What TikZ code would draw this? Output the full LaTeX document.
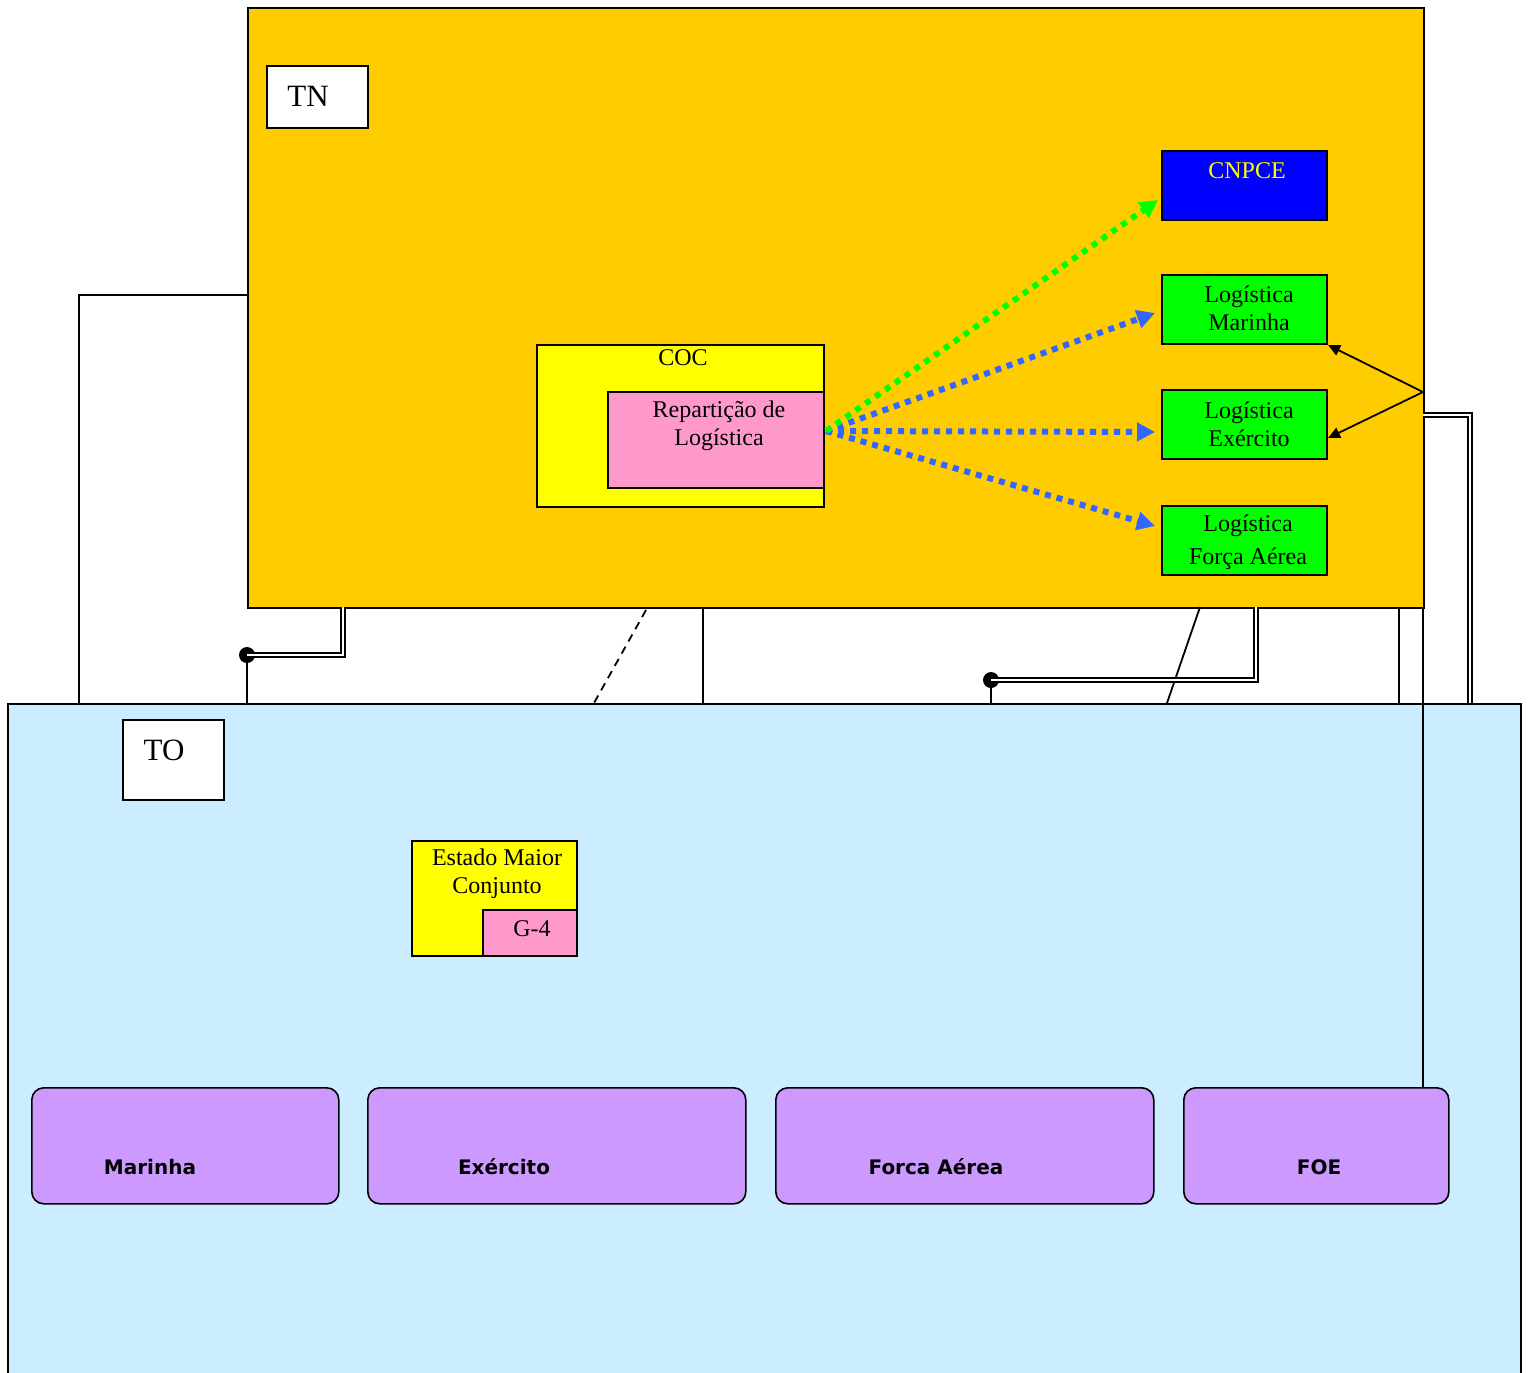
\documentclass[tikz,border=0pt]{standalone}
\usepackage{fontspec}
\setmainfont{Liberation Serif}
\newfontfamily\pfont{DejaVu Sans}
\usetikzlibrary{arrows.meta,calc}
\definecolor{tnfill}{HTML}{FFCC00}
\definecolor{tofill}{HTML}{CCECFF}
\definecolor{ylw}{HTML}{FFFF00}
\definecolor{pnk}{HTML}{FF99CC}
\definecolor{grn}{HTML}{00FF00}
\definecolor{blu}{HTML}{0000FF}
\definecolor{prp}{HTML}{CC99FF}
\definecolor{arrblue}{HTML}{3366FF}
\begin{document}
\begin{tikzpicture}[x=0.5pt,y=-0.5pt,
  box/.style={draw=black, line width=0.8pt, inner sep=0pt, anchor=north west},
  sz/.style 2 args={minimum width=#1*0.5pt, minimum height=#2*0.5pt},
  lbl/.style={inner sep=0pt, align=center, font=\fontsize{12}{14}\selectfont},
  biglbl/.style={inner sep=0pt, font=\fontsize{15.5}{18}\selectfont},
  plbl/.style={inner sep=0pt, font=\pfont\bfseries\fontsize{10}{12}\selectfont},
  pbox/.style={box, fill=prp, rounded corners=6pt, sz={#1}{116}},
  conn/.style={line width=0.9pt},
  dbl/.style={line width=1pt, double=white, double distance=1pt},
  dotarr/.style={line width=3pt, dash pattern=on 3pt off 3pt, -{Triangle[length=9pt,width=9pt]}},
  blkarr/.style={line width=0.9pt, -{Triangle[length=6pt,width=5.5pt]}},
  joint/.style={circle, fill=black, inner sep=0pt, minimum size=8pt}]
\useasboundingbox (0,0) rectangle (1529,1372);
\clip (0,0) rectangle (1529,1372);

% main areas
\node[box, fill=tofill, sz={1513}{690}] (to) at (7,703) {};
\node[box, fill=tnfill, sz={1176}{600}] (tn) at (247,7) {};

% TN contents
\node[box, fill=white, sz={101}{62}] (tnl) at (266,65) {};
\node[biglbl] (tntxt) at (308,96) {TN};
\node[box, fill=blu, sz={165}{69}] (cnpce) at (1161,150) {};
\node[lbl, text=ylw] (cnpcetxt) at (1247,171) {CNPCE};
\node[box, fill=grn, sz={165}{69}] (lm) at (1161,274) {};
\node[lbl] (lmtxt) at (1249,308) {Logística\\Marinha};
\node[box, fill=grn, sz={165}{69}] (le) at (1161,389) {};
\node[lbl] (letxt) at (1249,424) {Logística\\Exército};
\node[box, fill=grn, sz={165}{69}] (lf) at (1161,505) {};
\node[lbl, font=\fontsize{12}{16.5}\selectfont] (lftxt) at (1248,542) {Logística\\Força Aérea};
\node[box, fill=ylw, sz={287}{162}] (coc) at (536,344) {};
\node[lbl] (coctxt) at (683,358) {COC};
\node[box, fill=pnk, sz={216}{96}] (rep) at (607,391) {};
\node[lbl] (reptxt) at (719,426) {Repartição de\\Logística};

% TO contents
\node[box, fill=white, sz={101}{80}] (tol) at (122,719) {};
\node[biglbl] (totxt) at (164,750) {TO};
\node[box, fill=ylw, sz={165}{115}] (emc) at (411,840) {};
\node[lbl] (emctxt) at (497,874) {Estado Maior\\Conjunto};
\node[box, fill=pnk, sz={94}{46}] (g4) at (482,909) {};
\node[lbl] (g4txt) at (532,929) {G-4};

% coordinates
\coordinate (src) at (826,431);
\coordinate (eC) at (1158,200);
\coordinate (eM) at (1155,313);
\coordinate (eE) at (1155,432);
\coordinate (eF) at (1155,526);
\coordinate (bo) at (1423,392);
\coordinate (bM) at (1328,345);
\coordinate (bE) at (1328,438);

% dotted arrows
\draw[dotarr, arrblue] (src) -- (eM);
\draw[dotarr, arrblue] (src) -- (eE);
\draw[dotarr, arrblue] (src) -- (eF);
\draw[dotarr, grn] (src) -- (eC);
% black arrows
\draw[blkarr] (bo) -- (bM);
\draw[blkarr] (bo) -- (bE);

% connectors between TN and TO
\coordinate (l1) at (247,295);
\coordinate (l2) at (79,295);
\coordinate (l3) at (79,703);
\draw[conn] (l1) -- (l2) -- (l3);

\node[joint] (dotA) at (247,655) {};
\coordinate (a1) at (343,607);
\coordinate (a2) at (343,655);
\coordinate (a3) at (247,703);
\draw[dbl] (a1) -- (a2) -- (dotA.center);
\draw[conn] (dotA) -- (a3);

\coordinate (d1) at (646,610);
\coordinate (d2) at (594,703);
\draw[conn, dash pattern=on 4pt off 3pt] (d1) -- (d2);

\coordinate (v1) at (703,607);
\coordinate (v2) at (703,703);
\draw[conn] (v1) -- (v2);

\coordinate (s1) at (1200,607);
\coordinate (s2) at (1167,703);
\draw[conn] (s1) -- (s2);

\node[joint] (dotB) at (991,680) {};
\coordinate (b1) at (1256,607);
\coordinate (b2) at (1256,680);
\coordinate (b3) at (991,703);
\draw[dbl] (b1) -- (b2) -- (dotB.center);
\draw[conn] (dotB) -- (b3);

\coordinate (r1) at (1399,607);
\coordinate (r2) at (1399,703);
\draw[conn] (r1) -- (r2);

\coordinate (q1) at (1423,415);
\coordinate (q2) at (1470,415);
\coordinate (q3) at (1470,703);
\draw[dbl] (q1) -- (q2) -- (q3);

% purple boxes
\node[pbox=307] (pm) at (31,1087) {};
\node[pbox=378] (pe) at (367,1087) {};
\node[pbox=378] (pf) at (775,1087) {};
\node[pbox=265] (pfoe) at (1183,1087) {};
\node[plbl] (pmtxt) at (150,1167) {Marinha};
\node[plbl] (petxt) at (504,1167) {Exército};
\node[plbl] (pftxt) at (936,1167) {Forca Aérea};
\node[plbl] (pfoetxt) at (1319,1167) {FOE};

\coordinate (f1) at (1423,607);
\draw[conn] (f1) -- (pfoe.north -| f1);
\end{tikzpicture}
\end{document}
